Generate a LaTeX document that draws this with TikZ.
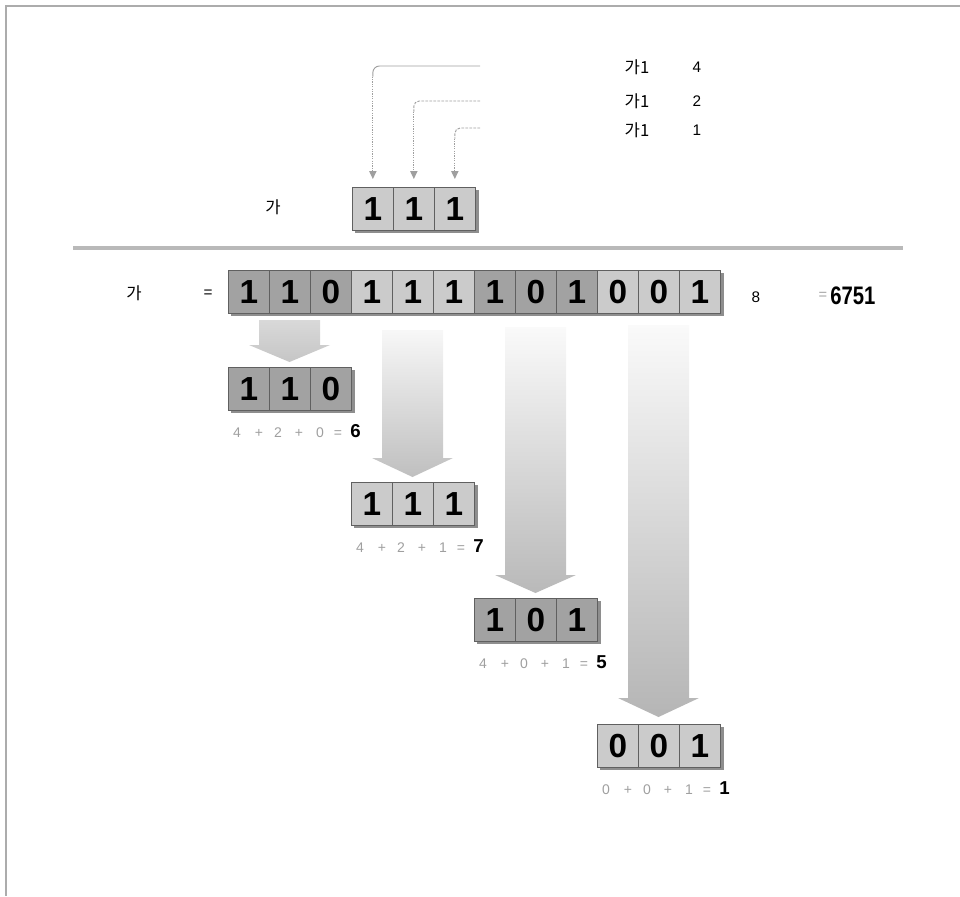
\documentclass[tikz,border=0pt]{standalone}
\usepackage{fontspec}
\setmainfont{Liberation Sans}
\newfontfamily\krfont{Noto Sans CJK KR}
\usetikzlibrary{arrows.meta}
\definecolor{cdark}{HTML}{A2A2A2}
\definecolor{clight}{HTML}{CBCBCB}
\definecolor{cshadow}{HTML}{8E8E8E}
\tikzset{
  cell/.style={draw=gray!75!black, line width=0.5pt, minimum width=30.75pt,
    minimum height=32.25pt, inner sep=0pt, anchor=north west,
    font=\fontsize{25}{25}\selectfont\bfseries},
  shadowbox/.style={fill=cshadow, draw=none},
  lbl/.style={font=\fontsize{11.5}{13}\selectfont, inner sep=0pt},
  krlbl/.style={font=\krfont\fontsize{12.5}{14}\selectfont, inner sep=0pt},
  sumtok/.style={font=\fontsize{10.5}{12}\selectfont, text=gray!75, inner sep=0pt, anchor=base},
  restok/.style={font=\fontsize{14}{14}\selectfont\bfseries, inner sep=0pt, anchor=base west},
  ptrline/.style={gray!75, line width=0.7pt},
  ptr/.style={gray!75, line width=0.8pt, densely dotted, shorten >=6pt,
    -{Triangle[length=6pt,width=5.5pt]}},
  bigarrow/.style={draw=none},
  framel/.style={gray!65, line width=1.6pt},
  sepline/.style={gray!55, line width=2.4pt},
}
% register: name, x, y, digits, colour offset, number of cells
\newcommand\regdraw[6]{%
  \fill[shadowbox] (#2+3,#3+3) rectangle (#2+41*#6+4,#3+46);
  \foreach \d [count=\i from 0] in {#4} {
    \pgfmathtruncatemacro\grp{mod(floor(\i/3)+#5,2)}
    \ifnum\grp=0 \def\cc{cdark}\else\def\cc{clight}\fi
    \node[cell, fill=\cc] (#1\i) at (#2+41*\i,#3) {\d};
  }%
}
% sum line: name, x, y, tokens..., result
\newcommand\sumline[7]{%
  \foreach \tok/\dx [count=\k] in {#4/9,+/31,#5/50,+/71,#6/92,=/110} {
    \node[sumtok] (#1\k) at (#2+\dx,#3+70) {\tok};
  }%
  \node[restok] (#1r) at (#2+122,#3+70) {#7};
}
\begin{document}
\begin{tikzpicture}[x=0.75pt,y=-0.75pt]
\useasboundingbox (0,0) rectangle (960,896);
% frame
\draw[framel] (5,6) -- (960,6);
\draw[framel] (6,5) -- (6,896);
% separator
\draw[sepline] (73,248) -- (903,248);

% top register
\node[krlbl] (ga1) at (273,207) {가};
\regdraw{t}{352}{187}{1,1,1}{1}{3}
\coordinate (p1) at (480,66);
\coordinate (p2) at (480,101);
\coordinate (p3) at (480,128);
\coordinate (c1) at (t0.north |- p1);
\coordinate (c2) at (t1.north |- p2);
\coordinate (c3) at (t2.north |- p3);
\coordinate (d1) at ([yshift=-8pt]c1);
\coordinate (d2) at ([yshift=-8pt]c2);
\coordinate (d3) at ([yshift=-8pt]c3);
\draw[ptrline, rounded corners=5pt] (p1) -- (c1) -- (d1);
\draw[ptrline, rounded corners=4pt, dash pattern=on 2pt off 1pt] (p2) -- (c2) -- (d2);
\draw[ptrline, rounded corners=4pt, dash pattern=on 2pt off 1pt] (p3) -- (c3) -- (d3);
\draw[ptr] (d1) -- (t0.north);
\draw[ptr] (d2) -- (t1.north);
\draw[ptr] (d3) -- (t2.north);
\node[krlbl] (l1) at (637,67) {가1};
\node[krlbl] (l2) at (637,101) {가1};
\node[krlbl] (l3) at (637,130) {가1};
\node[lbl] (v1) at (697,67) {4};
\node[lbl] (v2) at (697,101) {2};
\node[lbl] (v3) at (697,130) {1};

% main register
\node[krlbl] (ga2) at (134,293) {가};
\node[lbl] (eq) at (208,294) {=};
\regdraw{m}{228}{270}{1,1,0,1,1,1,1,0,1,0,0,1}{0}{12}
\node[lbl] (eight) at (756,297) {8};
\node[lbl, text=gray!70, font=\fontsize{11}{12}\selectfont] (eq2) at (823,296) {=};
\node[inner sep=0pt, anchor=west, font=\fontsize{19}{19}\selectfont\bfseries] (val) at (830,296) {\scalebox{0.8}[1]{6751}};

% big arrows
\shade[bigarrow, top color=gray!30, bottom color=gray!45]
  (259,320) -- (320,320) -- (320,345) -- (330,345) -- (289.5,362) -- (249,345) -- (259,345) -- cycle;
\shade[bigarrow, top color=gray!6, bottom color=gray!50]
  (382,330) -- (443,330) -- (443,458) -- (453,458) -- (412.5,477) -- (372,458) -- (382,458) -- cycle;
\shade[bigarrow, top color=gray!4, bottom color=gray!55]
  (505,327) -- (566,327) -- (566,575) -- (576,575) -- (535.5,593) -- (495,575) -- (505,575) -- cycle;
\shade[bigarrow, top color=gray!4, bottom color=gray!58]
  (628,325) -- (689,325) -- (689,698) -- (699,698) -- (658.5,717) -- (618,698) -- (628,698) -- cycle;

% result registers
\regdraw{ra}{228}{367}{1,1,0}{0}{3}
\regdraw{rb}{351}{482}{1,1,1}{1}{3}
\regdraw{rc}{474}{598}{1,0,1}{0}{3}
\regdraw{rd}{597}{724}{0,0,1}{1}{3}
\sumline{sa}{228}{367}{4}{2}{0}{6}
\sumline{sb}{351}{482}{4}{2}{1}{7}
\sumline{sc}{474}{598}{4}{0}{1}{5}
\sumline{sd}{597}{724}{0}{0}{1}{1}
\end{tikzpicture}
\end{document}
